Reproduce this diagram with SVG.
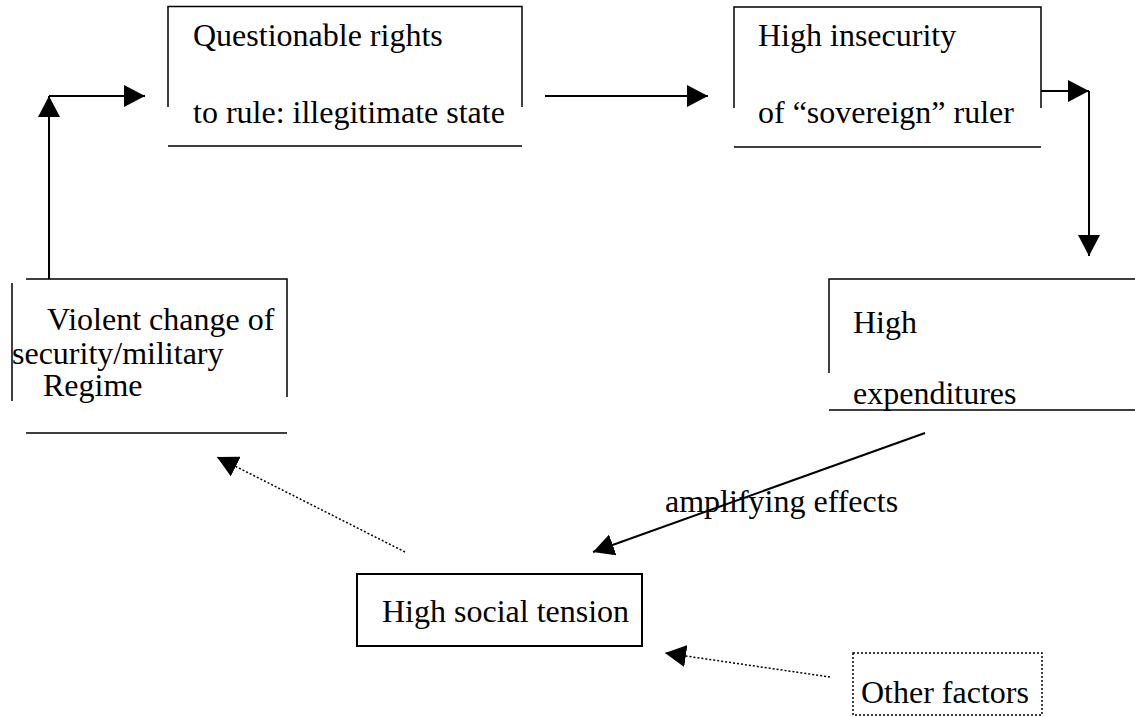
<svg xmlns="http://www.w3.org/2000/svg" width="1135" height="717" viewBox="0 0 1135 717">
<style>
text{font-family:"Liberation Serif","Times New Roman",serif;font-size:32px;fill:#000}
.b{stroke:#000;stroke-width:1.5;fill:none}
.c{stroke:#000;stroke-width:2;fill:none}
.d{stroke:#000;stroke-width:1.5;fill:none;stroke-dasharray:2 2}
</style>
<defs>
<marker id="ah" markerUnits="userSpaceOnUse" markerWidth="22" markerHeight="22" viewBox="0 0 22 22" refX="21" refY="11" orient="auto">
<path d="M0,0 L21,11 L0,22 z" fill="#000"/>
</marker>
</defs>
<rect width="1135" height="717" fill="#fff"/>
<g id="node-questionable">
<path class="b" d="M168,107 V6.5 H522 V107 M168,146 H522"/>
<text x="193" y="46">Questionable rights</text>
<text x="193" y="123">to rule: illegitimate state</text>
</g>
<g id="node-insecurity">
<path class="b" d="M734,108 V7 H1041 V108 M734,147 H1041"/>
<text x="758" y="46">High insecurity</text>
<text x="758" y="123">of “sovereign” ruler</text>
</g>
<g id="node-expenditures">
<path class="b" d="M829,373 V279 H1135 M829,410 H1135"/>
<text x="853" y="333">High</text>
<text x="853" y="404">expenditures</text>
</g>
<g id="node-violent">
<path class="b" d="M26,279 H287 V397 M12,283 V401 M26,433 H287"/>
<text x="47" y="330">Violent change of</text>
<text x="12" y="364">security/military</text>
<text x="43" y="396">Regime</text>
</g>
<g id="node-tension">
<rect x="357" y="574" width="285" height="72" fill="none" stroke="#000" stroke-width="2"/>
<text x="382" y="622">High social tension</text>
</g>
<g id="node-other">
<rect x="853" y="653" width="189" height="62" class="d"/>
<text x="861" y="703">Other factors</text>
</g>
<g id="connectors">
<path class="c" d="M49,279 V96" marker-end="url(#ah)"/>
<path class="c" d="M49,96 H145" marker-end="url(#ah)"/>
<path class="c" d="M545,96 H708" marker-end="url(#ah)"/>
<path class="c" d="M1041,91 H1089" marker-end="url(#ah)"/>
<path class="c" d="M1089,91 V256" marker-end="url(#ah)"/>
<path class="c" d="M925,433 L593,552" marker-end="url(#ah)"/>
<path class="d" d="M405,552 L217,457" marker-end="url(#ah)"/>
<path class="d" d="M830,677 L665,653" marker-end="url(#ah)"/>
<text x="665" y="512">amplifying effects</text>
</g>
</svg>
